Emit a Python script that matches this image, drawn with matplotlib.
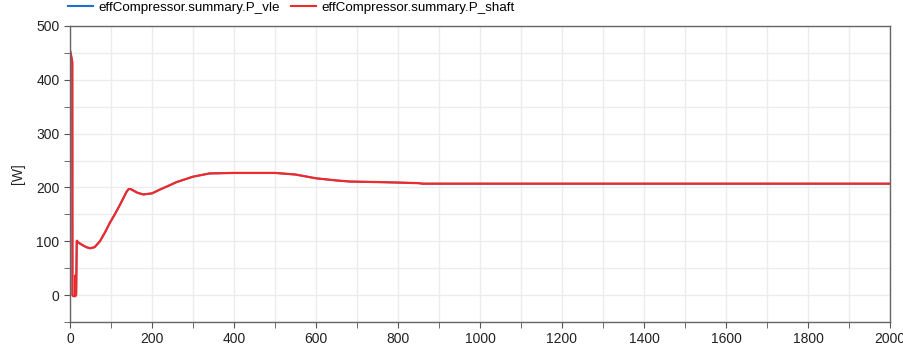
import matplotlib
matplotlib.use("Agg")
import matplotlib.pyplot as plt
from matplotlib.ticker import MultipleLocator

plt.rcParams['font.family'] = ['Liberation Sans', 'DejaVu Sans']

# time [s]
t = [0, 2, 4, 5.6, 6, 8, 10, 12, 13, 13.5, 14, 15, 16.5, 20, 30, 40, 49, 60,
     73, 85, 97, 110, 122, 132, 138, 143, 148, 155, 165, 179, 200, 219, 240, 260, 300, 340,
     400, 500, 550, 600, 650, 682, 750, 804, 850, 860, 1000, 1500, 2000]
# power [W]
p_vle = [455, 448, 440, 433, 0, -2, -2, -2, -2, 37, 0, 0, 101, 98, 93, 89, 87, 89,
         100, 116, 134, 151, 168, 183, 192, 197, 197, 194, 190, 187, 189, 196, 203, 210, 220, 226,
         227, 227, 224, 217, 213, 211, 210, 209, 208, 207, 207, 207, 207]
p_shaft = list(p_vle)

fig = plt.figure(figsize=(9.04, 3.54), dpi=100)
ax = fig.add_axes([70/904, 1 - 322/354, (890 - 70)/904, (322 - 26)/354])

ax.plot(t, p_vle, color='#1f6fd1', lw=1.3, label='effCompressor.summary.P_vle')
ax.plot(t, p_shaft, color='#ee2a2a', lw=1.6, label='effCompressor.summary.P_shaft')

ax.set_xlim(0, 2000)
ax.set_ylim(-50, 500)
ax.xaxis.set_major_locator(MultipleLocator(200))
ax.xaxis.set_minor_locator(MultipleLocator(100))
ax.yaxis.set_major_locator(MultipleLocator(100))
ax.yaxis.set_minor_locator(MultipleLocator(50))
ax.grid(True, which='both', color='#ececec', lw=1.0)
ax.set_axisbelow(True)
for s in ax.spines.values():
    s.set_color('#666666')
    s.set_linewidth(1.0)
ax.tick_params(which='both', direction='out', length=4, color='#555555',
               labelsize=10, labelcolor='#222222', top=False, right=False)
ax.set_ylabel('[W]', fontsize=10, color='#222222', labelpad=8)

leg = fig.legend(loc='upper left', bbox_to_anchor=(66/904, 1.0), ncol=2, frameon=False,
                 fontsize=9.6, handlelength=1.9, handletextpad=0.4, columnspacing=0.85,
                 borderaxespad=0, borderpad=0.12)
for h in leg.legend_handles:
    h.set_linewidth(1.5)

fig.savefig('out.png', dpi=100)
